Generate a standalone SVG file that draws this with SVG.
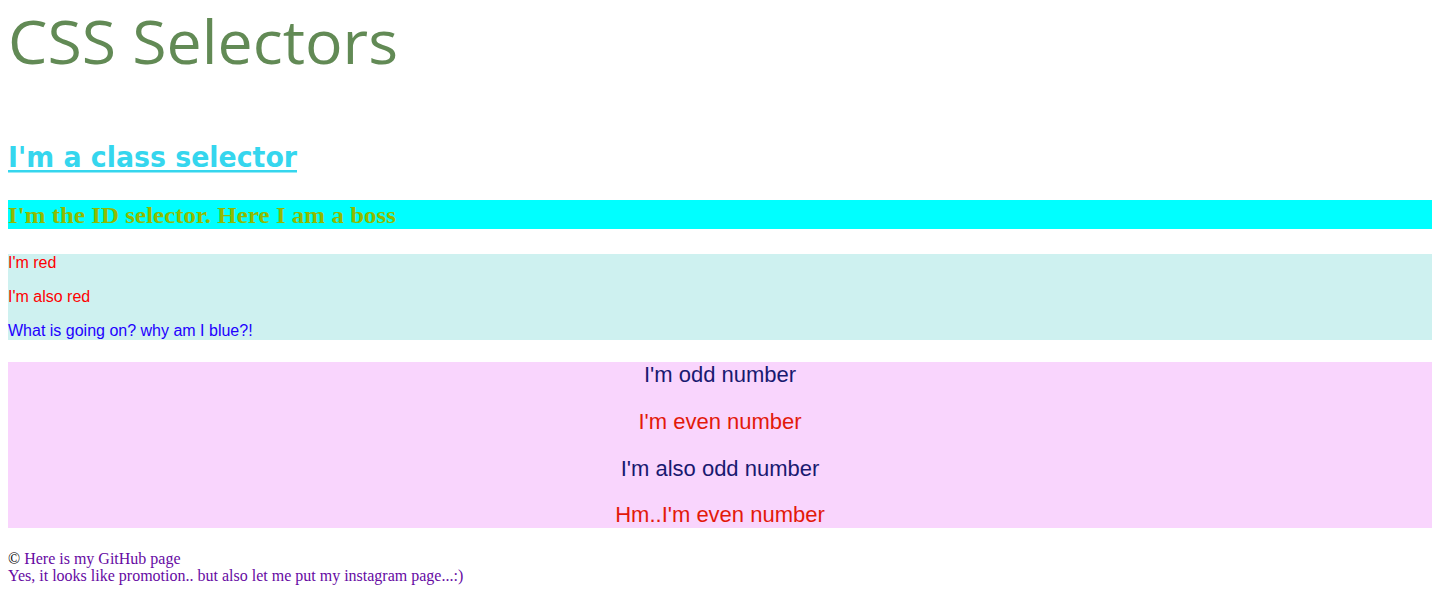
<svg xmlns="http://www.w3.org/2000/svg" width="1439" height="604" viewBox="0 0 1439 604">
<style>
.sans{font-family:"Liberation Sans",Arial,sans-serif}
.serif{font-family:"Liberation Serif","Times New Roman",serif}
.odd{fill:#191970;font-size:22px}
.even{fill:#e3190a;font-size:22px}
.red{fill:#ff0000;font-size:16px}
.link{fill:#660aa3}
</style>
<rect width="1439" height="604" fill="#ffffff"/>
<g id="title">
<text x="8" y="64" font-family="'Open Sans','DejaVu Sans',sans-serif" font-size="60" fill="#628a55" textLength="390" lengthAdjust="spacingAndGlyphs">CSS Selectors</text>
</g>
<g id="class-selector">
<text x="8" y="167" font-family="'DejaVu Sans',Verdana,sans-serif" font-weight="bold" font-size="28" fill="#35d6ee" textLength="289" lengthAdjust="spacingAndGlyphs">I'm a class selector</text>
<rect x="8" y="170" width="289" height="2.5" fill="#35d6ee"/>
</g>
<g id="id-selector">
<rect x="8" y="200" width="1424" height="29" fill="#00ffff"/>
<text x="8" y="222.5" class="serif" font-weight="bold" font-size="24" fill="#8fbb00" textLength="388" lengthAdjust="spacingAndGlyphs">I'm the ID selector. Here I am a boss</text>
</g>
<g id="red-block">
<rect x="8" y="254" width="1424" height="86" fill="#cef1f0"/>
<text x="8" y="268" class="sans red">I'm red</text>
<text x="8" y="302" class="sans red">I'm also red</text>
<text x="8" y="335.5" class="sans" font-size="16" fill="#2200ff">What is going on? why am I blue?!</text>
</g>
<g id="numbers-block">
<rect x="8" y="362" width="1424" height="166" fill="#f9d5fd"/>
<text x="720" y="381.5" class="sans odd" text-anchor="middle">I'm odd number</text>
<text x="720" y="428.5" class="sans even" text-anchor="middle">I'm even number</text>
<text x="720" y="475.5" class="sans odd" text-anchor="middle">I'm also odd number</text>
<text x="720" y="522" class="sans even" text-anchor="middle">Hm..I'm even number</text>
</g>
<g id="footer">
<text x="8" y="563.5" class="serif" font-size="16" fill="#000000">© <tspan class="link">Here is my GitHub page</tspan></text>
<text x="8" y="581" class="serif link" font-size="16">Yes, it looks like promotion.. but also let me put my instagram page...:)</text>
</g>
</svg>
